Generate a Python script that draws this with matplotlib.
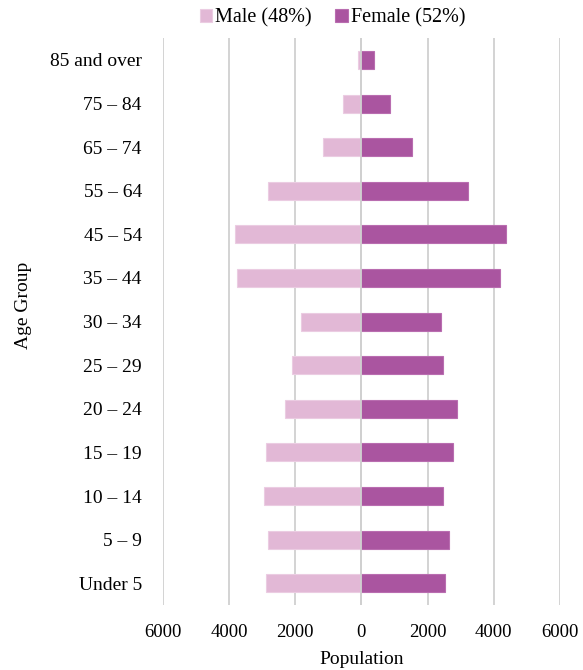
import numpy as np
import matplotlib
matplotlib.use("Agg")
from matplotlib import pyplot as plt

# bottom to top
age_groups = ["Under 5", "5 – 9", "10 – 14", "15 – 19", "20 – 24", "25 – 29",
              "30 – 34", "35 – 44", "45 – 54", "55 – 64", "65 – 74", "75 – 84",
              "85 and over"]
male = [2880, 2830, 2940, 2880, 2320, 2080, 1830, 3750, 3810, 2830, 1150, 540, 110]
female = [2540, 2650, 2460, 2780, 2900, 2460, 2400, 4200, 4380, 3210, 1540, 860, 370]
x_ticks = [-6000, -4000, -2000, 0, 2000, 4000, 6000]
x_tick_labels = ["6000", "4000", "2000", "0", "2000", "4000", "6000"]

male_color = "#E2B8D6"
female_color = "#AA55A0"

plt.rcParams["font.family"] = ["Liberation Serif", "DejaVu Serif"]

fig = plt.figure(figsize=(5.83, 6.70), dpi=100)
ax = fig.add_axes([0.279, 0.097, 0.6815, 0.846])

y = np.arange(len(age_groups))
ax.barh(y, -np.array(male), height=0.41, color=male_color,
        edgecolor="#EBCCE2", linewidth=0.8, label="Male (48%)", zorder=3)
ax.barh(y, female, height=0.41, color=female_color,
        edgecolor="#B96DB0", linewidth=0.8, label="Female (52%)", zorder=3)
# vertical axis line sits on top of the bars
ax.axvline(0, color="#D0D0D0", linewidth=1.3, zorder=4)

ax.set_xlim(-6000, 6000)
ax.set_ylim(-0.5, len(age_groups) - 0.5)
ax.set_xticks(x_ticks)
ax.set_xticklabels(x_tick_labels, fontsize=13.5)
ax.set_yticks(y)
ax.set_yticklabels(age_groups, fontsize=14)
ax.tick_params(axis="both", length=0)
ax.tick_params(axis="x", pad=14)
ax.tick_params(axis="y", pad=15)

ax.grid(axis="x", color="#D0D0D0", linewidth=1.3, zorder=0)
ax.set_axisbelow(True)
for s in ax.spines.values():
    s.set_visible(False)

fig.text(0.621, 1 - 660 / 670, "Population", ha="center", va="center", fontsize=14)
fig.text(24 / 583, 1 - 305 / 670, "Age Group", ha="center", va="center",
         rotation=90, fontsize=14)

fig.legend(loc="center", bbox_to_anchor=(0.57, 1 - 18 / 670), ncol=2,
           frameon=False, fontsize=14.5, handlelength=0.6, handleheight=0.6,
           handletextpad=0.15, columnspacing=1.2, borderaxespad=0)

fig.savefig("out.png", dpi=100)
